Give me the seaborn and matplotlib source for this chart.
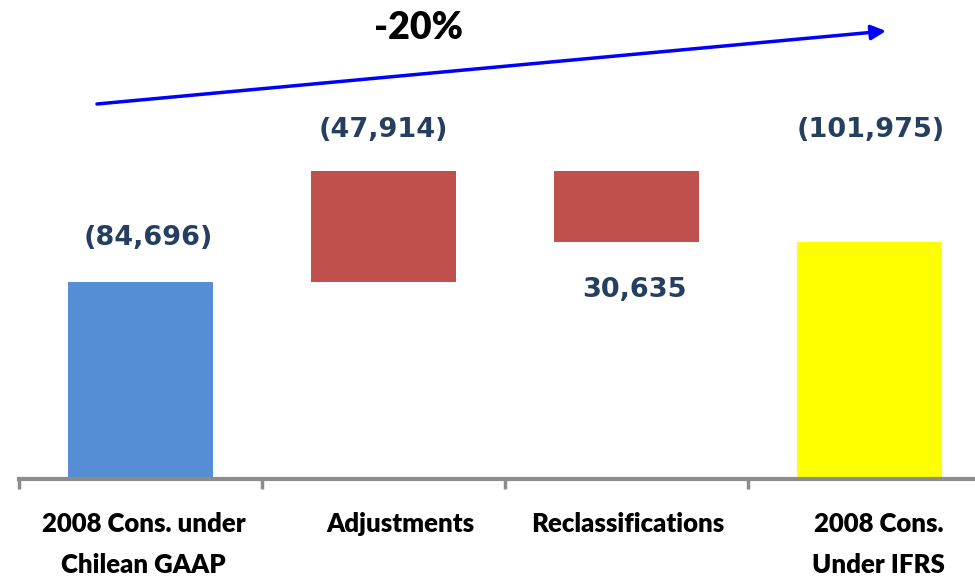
import matplotlib
matplotlib.use("Agg")
import matplotlib.pyplot as plt
import matplotlib.transforms as mtransforms
import seaborn as sns
from matplotlib.patches import FancyArrowPatch

# Bridge from Chilean GAAP to IFRS (thousands)
categories = ["2008 Cons. under\nChilean GAAP", "Adjustments", "Reclassifications", "2008 Cons.\nUnder IFRS"]
start_value = 84696
adjustments = 47914
reclassifications = -30635
end_value = 101975
value_labels = ["(84,696)", "(47,914)", "30,635", "(101,975)"]
change_label = "-20%"
bar_colors = ["#558ED5", "#C0504D", "#C0504D", "#FFFF00"]

# Floating bar extents for the waterfall
tops = [start_value, start_value + adjustments, start_value + adjustments, end_value]
bottoms = [0, start_value, start_value + adjustments + reclassifications, 0]
spans = [t - b for t, b in zip(tops, bottoms)]

sns.set_theme(style="white")
plt.rcParams["font.family"] = ["DejaVu Sans"]

W, H = 975, 579
fig = plt.figure(figsize=(W / 100, H / 100), dpi=100)
ax = fig.add_axes([19 / W, 100 / H, 972 / W, 479 / H])

sns.barplot(x=categories, y=spans, hue=categories, palette=bar_colors,
            legend=False, width=0.6, saturation=1, ax=ax, linewidth=0)
for patch, b in zip(ax.patches, bottoms):
    patch.set_y(b)

ax.set_ylim(0, 206240)
ax.set_xlim(-0.5, 3.5)

for s in ["top", "left", "right"]:
    ax.spines[s].set_visible(False)
ax.spines["bottom"].set_color("#8C8C8C")
ax.spines["bottom"].set_linewidth(3)
ax.set_yticks([])
ax.set_ylabel("")
ax.set_xlabel("")

# tick marks on category boundaries, labels at category centres
ax.set_xticks([-0.5, 0.5, 1.5, 2.5, 3.5], minor=True)
ax.tick_params(axis="x", which="minor", bottom=True, length=7, width=2.5,
               color="#8C8C8C", direction="out")
ax.tick_params(axis="x", which="major", bottom=False, pad=18)
ax.set_xticks(range(4))
ax.set_xticklabels(categories, fontfamily="Lato", fontweight="heavy",
                   fontsize=18.5, color="black", va="top")
label_shift_px = [3, 17, 1, 9]
for lbl, dx in zip(ax.get_xticklabels(), label_shift_px):
    lbl.set_linespacing(1.85)
    lbl.set_transform(lbl.get_transform() +
                      mtransforms.ScaledTranslation(dx / 100, 0, fig.dpi_scale_trans))

# value labels
label_style = dict(ha="center", va="center", fontsize=19.5, fontweight="bold",
                   color="#243F60", textcoords="offset pixels")
ax.annotate(value_labels[0], xy=(0, tops[0]), xytext=(8, 44), **label_style)
ax.annotate(value_labels[1], xy=(1, tops[1]), xytext=(0, 41), **label_style)
ax.annotate(value_labels[2], xy=(2, bottoms[2]), xytext=(8, -48), **label_style)
ax.annotate(value_labels[3], xy=(3, tops[1]), xytext=(1, 41), **label_style)

# overall change arrow
arrow = FancyArrowPatch((97, H - 104), (886, H - 31), transform=None,
                        arrowstyle="-|>", mutation_scale=22, lw=2.5,
                        color="#0000FF", shrinkA=0, shrinkB=0)
fig.add_artist(arrow)
fig.text(418 / W, 1 - 28 / H, change_label, ha="center", va="center",
         fontsize=27, fontweight="heavy", family="Lato", color="black")

fig.savefig("out.png", dpi=100)
